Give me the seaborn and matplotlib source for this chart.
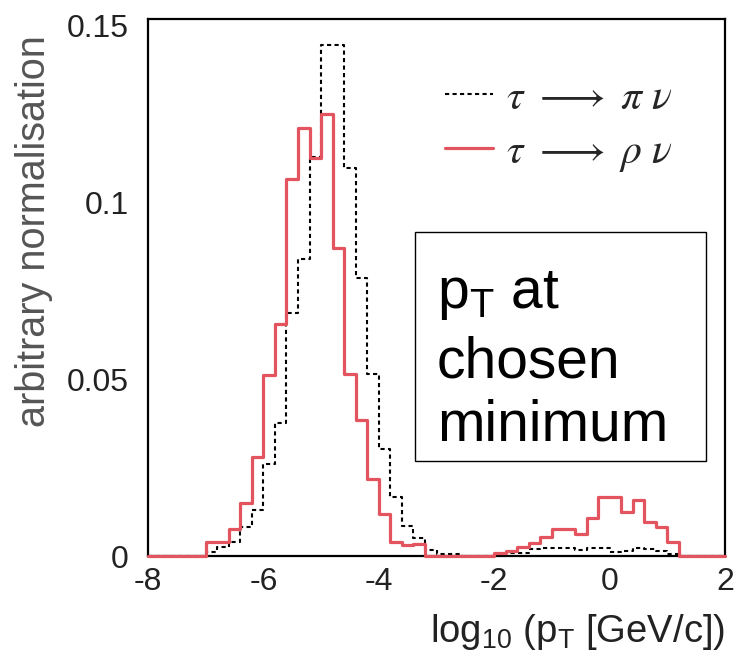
import numpy as np
import pandas as pd
import matplotlib
matplotlib.use("Agg")
import matplotlib.pyplot as plt
from matplotlib.font_manager import FontProperties
from matplotlib.patches import Rectangle
import seaborn as sns

# ---- data ----
bin_edges = [round(-8 + 0.2 * k, 1) for k in range(51)]
pi_nu = [0, 0, 0, 0, 0,
         0.001, 0.0025, 0.004, 0.0083, 0.013,
         0.026, 0.0377, 0.0687, 0.084, 0.1128,
         0.1443, 0.1443, 0.1095, 0.0784, 0.0514,
         0.0301, 0.0166, 0.0085, 0.005, 0.0018,
         0.0006, 0.0005, 0, 0, 0,
         0, 0.0008, 0.0008, 0.002, 0.0022,
         0.0022, 0.0022, 0.0018, 0.0022, 0.0022,
         0.0012, 0.0015, 0.0022, 0.002, 0.0015,
         0.0006, 0, 0, 0, 0]
rho_nu = [0, 0, 0, 0, 0,
          0.004, 0.004, 0.0075, 0.015, 0.028,
          0.051, 0.0655, 0.1064, 0.121, 0.1123,
          0.1249, 0.0869, 0.0514, 0.0384, 0.0217,
          0.012, 0.004, 0.0032, 0.0035, 0,
          0, 0, 0, 0, 0,
          0.0008, 0.0014, 0.0025, 0.0038, 0.0055,
          0.0075, 0.0075, 0.0063, 0.0106, 0.0168,
          0.0168, 0.0123, 0.0157, 0.0095, 0.0083,
          0.004, 0, 0, 0, 0]
x_ticks = [-8, -6, -4, -2, 0, 2]
x_ticklabels = ["-8", "-6", "-4", "-2", "0", "2"]
y_ticks = [0, 0.05, 0.1, 0.15]
y_ticklabels = ["0", "0.05", "0.1", "0.15"]
label_pi = r"$\tau\ \longrightarrow\ \pi\ \nu$"
label_rho = r"$\tau\ \longrightarrow\ \rho\ \nu$"
box_lines = [r"p$_{\mathregular{T}}$ at", "chosen", "minimum"]

centers = [(bin_edges[i] + bin_edges[i + 1]) / 2 for i in range(50)]
df = pd.DataFrame({"x": centers * 2,
                   "w": pi_nu + rho_nu,
                   "decay": ["pi"] * 50 + ["rho"] * 50})

sns.set_style("white")
plt.rcParams["font.family"] = ["Liberation Sans", "DejaVu Sans"]
plt.rcParams["mathtext.fontset"] = "custom"
plt.rcParams["mathtext.rm"] = "Liberation Sans"
plt.rcParams["mathtext.it"] = "Liberation Sans:italic"

fig = plt.figure(figsize=(7.42, 6.71), dpi=100)
ax = fig.add_axes([148 / 742, 1 - 556 / 671, 577 / 742, 537 / 671])

red = "#e4545f"
sns.histplot(data=df[df.decay == "pi"], x="x", weights="w", bins=bin_edges,
             element="step", fill=False, color="black", linewidth=1.5,
             linestyle=(0, (2, 1.6)), ax=ax, label=label_pi)
sns.histplot(data=df[df.decay == "rho"], x="x", weights="w", bins=bin_edges,
             element="step", fill=False, color=red, linewidth=2.3,
             ax=ax, label=label_rho, zorder=3, clip_on=False)

ax.set_xlim(-8, 2)
ax.set_ylim(0, 0.1517)
ax.set_xticks(x_ticks)
ax.set_xticklabels(x_ticklabels)
ax.set_yticks(y_ticks)
ax.set_yticklabels(y_ticklabels)
ax.tick_params(axis="both", direction="in", width=1.5, colors="#222222",
               labelsize=23)
ax.tick_params(axis="y", length=13, pad=14)
ax.tick_params(axis="x", length=8.5, pad=8)
for s in ax.spines.values():
    s.set_visible(True)
    s.set_linewidth(1.6)
    s.set_color("black")

ax.set_ylabel("arbitrary normalisation", fontsize=28.5, color="#555555")
ax.yaxis.set_label_coords(-0.165, 0.605)
ax.set_xlabel(r"log$_{\mathregular{10}}$ (p$_{\mathregular{T}}$ [GeV/c])",
              fontsize=27.5, color="#222222", loc="right", labelpad=11)

leg_prop = FontProperties(family="Liberation Serif", size=30,
                          math_fontfamily="stix")
ax.legend(loc="upper left", bbox_to_anchor=(0.515, 0.888), frameon=False,
          prop=leg_prop, handlelength=1.15, handletextpad=0.3,
          labelspacing=0.38, borderpad=0, borderaxespad=0)

ax.add_patch(Rectangle((0.4627, 0.1769), 0.967 - 0.4627, 0.6034 - 0.1769,
                       transform=ax.transAxes, fill=False,
                       edgecolor="black", linewidth=1.0, zorder=5))
for txt, yb in zip(box_lines, [0.4618, 0.3315, 0.216]):
    ax.text(0.501, yb, txt, transform=ax.transAxes, fontsize=41,
            va="baseline", ha="left", color="black")

fig.savefig("out.png", dpi=100)
